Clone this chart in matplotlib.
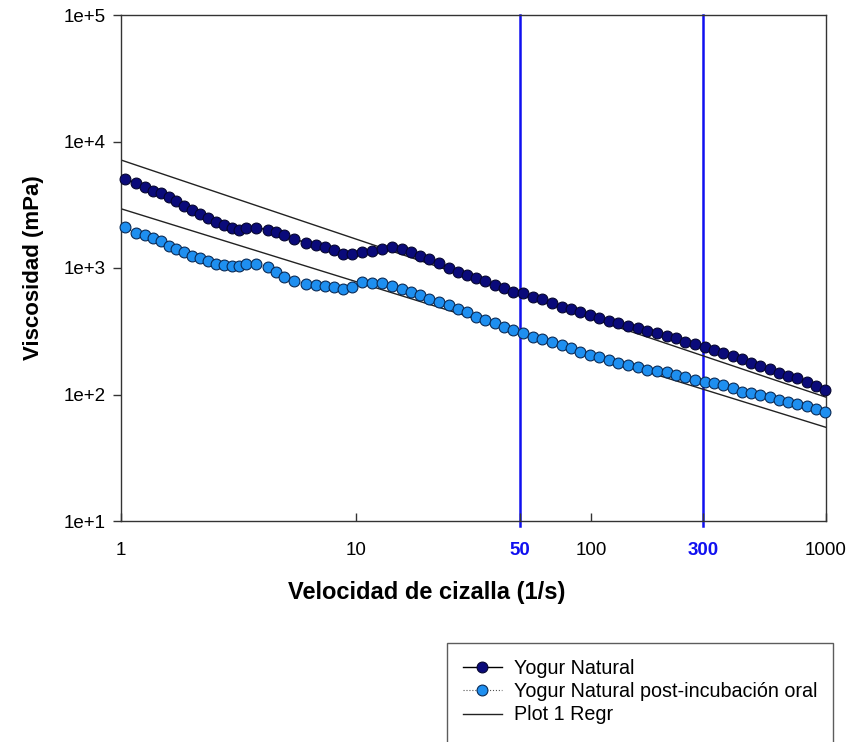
import numpy as np
import matplotlib
matplotlib.use("Agg")
import matplotlib.pyplot as plt
from matplotlib.lines import Line2D

plt.rcParams["font.family"] = ["Liberation Sans", "DejaVu Sans"]

# Shear rate (1/s) for each measured point
shear_rate = [
    1.04, 1.16, 1.265, 1.368, 1.48, 1.601, 1.714, 1.854, 2.005, 2.169,
    2.346, 2.537, 2.744, 2.968, 3.178, 3.403, 3.754,
    4.222, 4.566, 4.939, 5.447, 6.129, 6.758, 7.383, 8.061, 8.805, 9.616,
    10.61, 11.70, 12.90, 14.23, 15.69, 17.14, 18.73, 20.45, 22.55, 24.87,
    27.16, 29.67, 32.40, 35.39, 39.03, 42.64, 46.57, 51.36, 56.64, 61.87,
    68.23, 75.25, 82.19, 89.77, 99.0, 108.1, 119.3, 130.3, 143.7, 158.5,
    173.1, 190.9, 210.6, 230.0, 251.2, 277.1, 305.5, 333.8, 364.5, 402.1,
    439.2, 479.7, 523.9, 577.9, 631.0, 689.1, 752.6, 830.0, 906.5, 990.0,
]

# Viscosity (mPa) - plain yoghurt
visc_natural = [
    5054, 4697, 4369, 4062, 3916, 3641, 3385, 3091, 2873, 2672,
    2485, 2310, 2187, 2071, 1997, 2053, 2090,
    1997, 1926, 1824, 1696, 1585, 1520, 1466, 1388, 1290, 1290,
    1326, 1375, 1413, 1474, 1405, 1345, 1244, 1172, 1090, 1000,
    935, 888, 834, 793, 734, 691, 649, 629, 593, 566,
    532, 494, 472, 451, 425, 406, 383, 365, 348, 334,
    319, 305, 290, 278, 261, 251, 236, 223, 214, 202,
    190, 178, 168, 158, 149, 140, 134, 126, 117, 109,
]

# Viscosity (mPa) - plain yoghurt after oral incubation
visc_post = [
    2109, 1891, 1824, 1727, 1635, 1506, 1413, 1345, 1255, 1200,
    1136, 1076, 1047, 1028, 1028, 1076, 1081,
    1018, 930, 849, 789, 747, 734, 727, 711, 682, 707,
    775, 757, 757, 720, 678, 649, 612, 566, 541, 510,
    472, 451, 412, 388, 365, 344, 323, 305, 286, 273,
    261, 246, 232, 218, 205, 198, 187, 178, 171, 164,
    156, 154, 151, 143, 137, 130, 126, 123, 119, 112,
    105, 102, 99, 95, 90.5, 87.7, 84.1, 81.1, 76.4, 73.1,
]

# Power-law regressions: viscosity = K * rate**n
regr_K = [7140, 2940]
regr_n = [-0.625, -0.576]
regr_range = [1, 1000]

# Reference shear rates marked with vertical lines
ref_rates = [50, 300]

x_ticks = [1, 10, 50, 100, 300, 1000]
x_tick_labels = ["1", "10", "50", "100", "300", "1000"]
y_ticks = [1e1, 1e2, 1e3, 1e4, 1e5]
y_tick_labels = ["1e+1", "1e+2", "1e+3", "1e+4", "1e+5"]

DARK = "#0a0a7a"
LIGHT = "#1e8ff0"
REF = "#1010f0"

fig = plt.figure(figsize=(8.49, 7.42), dpi=100)
ax = fig.add_axes([121 / 849, 1 - 521 / 742, 705 / 849, 506 / 742])

ax.set_xscale("log")
ax.set_yscale("log")
ax.set_xlim(1, 1000)
ax.set_ylim(1e1, 1e5)

rr = np.array(regr_range, dtype=float)
rx = np.logspace(np.log10(rr[0]), np.log10(rr[1]), 50)
for K, n in zip(regr_K, regr_n):
    ax.plot(rx, K * rx ** n, color="#222222", lw=1.0, zorder=2)

for r in ref_rates:
    ax.axvline(r, color=REF, lw=1.8, zorder=1, clip_on=False,
               ymin=-0.01, ymax=1.0)

ax.plot(shear_rate, visc_natural, color="black", lw=1.0, ls="-",
        marker="o", ms=7.8, mfc=DARK, mec="#050530", mew=0.8, zorder=3,
        clip_on=False)
ax.plot(shear_rate, visc_post, color="black", lw=0.8, ls=":",
        marker="o", ms=7.8, mfc=LIGHT, mec="#0a2a55", mew=0.8, zorder=3,
        clip_on=False)

ax.set_xticks(x_ticks)
ax.set_xticklabels(x_tick_labels)
ax.set_yticks(y_ticks)
ax.set_yticklabels(y_tick_labels)
ax.xaxis.set_minor_locator(matplotlib.ticker.NullLocator())
ax.yaxis.set_minor_locator(matplotlib.ticker.NullLocator())

ax.tick_params(axis="y", direction="out", length=6, width=1, labelsize=13.5,
               pad=5, colors="#333333", labelcolor="black")
ax.tick_params(axis="x", direction="in", length=6, width=1, labelsize=13.5,
               pad=15, colors="#333333", labelcolor="black")
for lbl, tick, val in zip(ax.get_xticklabels(), ax.xaxis.get_major_ticks(), x_ticks):
    if val in ref_rates:
        lbl.set_color(REF)
        lbl.set_fontweight("bold")
        tick.tick1line.set_color(REF)

for s in ax.spines.values():
    s.set_color("#333333")
    s.set_linewidth(1.0)

ax.set_ylabel("Viscosidad (mPa)", fontsize=16, fontweight="bold", labelpad=14)
ax.set_xlabel("Velocidad de cizalla (1/s)", fontsize=17, fontweight="bold",
              labelpad=16)
ax.xaxis.label.set_x(0.434)

handles = [
    Line2D([], [], color="black", lw=1.0, ls="-", marker="o", ms=7.8,
           mfc=DARK, mec="#050530", mew=0.8),
    Line2D([], [], color="#555555", lw=0.8, ls=":", marker="o", ms=7.8,
           mfc=LIGHT, mec="#0a2a55", mew=0.8),
    Line2D([], [], color="#222222", lw=1.0),
    Line2D([], [], lw=0),
]
labels = ["Yogur Natural", "Yogur Natural post-incubación oral", "Plot 1 Regr", " "]
leg = fig.legend(handles, labels, loc="upper left",
                 bbox_to_anchor=(447 / 849, 1 - 643 / 742),
                 fontsize=14.2, frameon=True, fancybox=False, handlelength=2.0,
                 handletextpad=0.6, labelspacing=0.22, borderpad=0.8,
                 borderaxespad=0)
leg.get_frame().set_edgecolor("#333333")
leg.get_frame().set_linewidth(1.0)

fig.savefig("out.png", dpi=100)
